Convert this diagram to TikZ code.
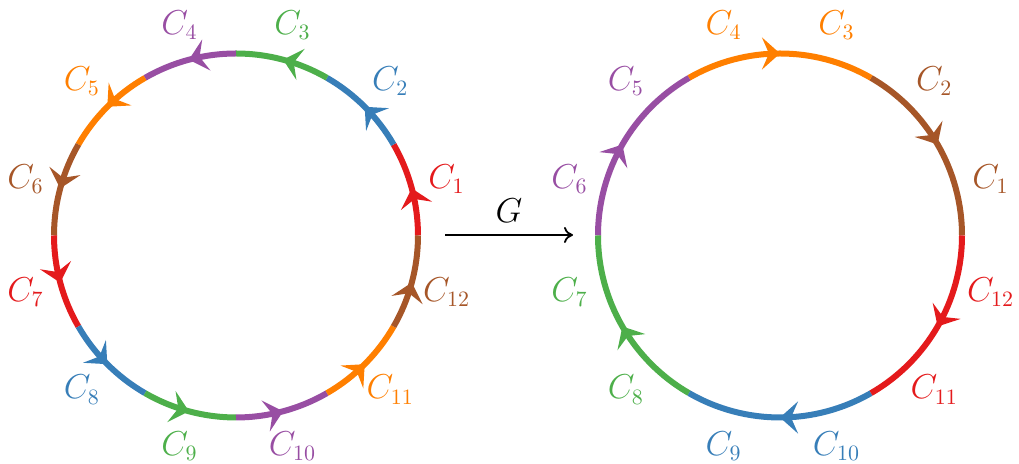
\documentclass[tikz,border=0pt]{standalone}
\usetikzlibrary{arrows.meta,decorations.markings}
\definecolor{cred}{HTML}{E41A1C}
\definecolor{cblue}{HTML}{377EB8}
\definecolor{cgreen}{HTML}{4DAF4A}
\definecolor{cpurple}{HTML}{984EA3}
\definecolor{corange}{HTML}{FF7F00}
\definecolor{cbrown}{HTML}{A65628}
\begin{document}
\begin{tikzpicture}[x=0.5pt,y=0.5pt,
  seg/.style={line width=3pt, postaction={decorate},
    decoration={markings, mark=at position 0.5 with {\arrow{Stealth[length=9pt,width=16pt,inset=3.5pt]}}}},
  lab/.style={font=\fontsize{16}{19}\selectfont, inner sep=0pt},
  mapping/.style={line width=0.9pt, -{To[length=4.5pt,width=8pt]}}]
\useasboundingbox (0,0) rectangle (1019,464);
\coordinate (L) at (236,228.5);
\coordinate (R) at (780,228.5);
% left circle: 12 arcs, counter-clockwise
\foreach \k/\c in {1/cred,2/cblue,3/cgreen,4/cpurple,5/corange,6/cbrown,7/cred,8/cblue,9/cgreen,10/cpurple,11/corange,12/cbrown}{
  \pgfmathsetmacro{\a}{30*(\k-1)}
  \pgfmathsetmacro{\m}{30*(\k-1)+15}
  \draw[seg,\c] ([shift={(\a:182)}]L) arc[start angle=\a, delta angle=30, radius=182];
  \node[lab,text=\c] (l\k) at ([shift={(\m:218)}]L) {$C_{\k}$};
}
% right circle: 6 arcs, clockwise
\foreach \j/\c in {1/cbrown,2/corange,3/cpurple,4/cgreen,5/cblue,6/cred}{
  \pgfmathsetmacro{\a}{60*\j}
  \draw[seg,\c] ([shift={(\a:182)}]R) arc[start angle=\a, delta angle=-60, radius=182];
}
\foreach \k/\c in {1/cbrown,2/cbrown,3/corange,4/corange,5/cpurple,6/cpurple,7/cgreen,8/cgreen,9/cblue,10/cblue,11/cred,12/cred}{
  \pgfmathsetmacro{\m}{30*(\k-1)+15}
  \node[lab,text=\c] (r\k) at ([shift={(\m:218)}]R) {$C_{\k}$};
}
% map G
\coordinate (gs) at (445,229);
\coordinate (ge) at (573,229);
\draw[mapping] (gs) -- node[lab,above=6pt] (g) {$G$} (ge);
\end{tikzpicture}
\end{document}
